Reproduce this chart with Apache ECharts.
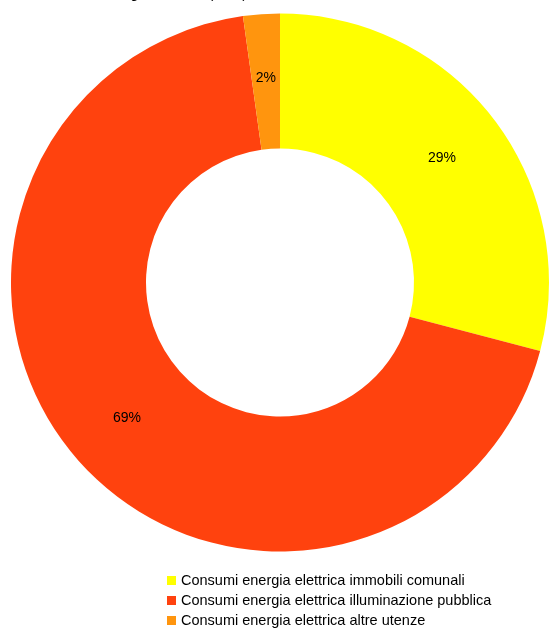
<!DOCTYPE html>
<html>
<head>
<meta charset="utf-8">
<script src="https://cdn.jsdelivr.net/npm/echarts@6/dist/echarts.min.js"></script>
<style>
  html, body { margin: 0; padding: 0; background: #ffffff; }
  #chart { width: 549px; height: 629px; }
</style>
</head>
<body>
<div id="chart"></div>
<script>
// Energy consumption shares by use
const categories = [
  'Consumi energia elettrica immobili comunali',
  'Consumi energia elettrica illuminazione pubblica',
  'Consumi energia elettrica altre utenze'
];
const shares = [29.1, 68.7, 2.2];
const sliceColors = ['#ffff00', '#ff420e', '#ff950e'];
const chartTitle = 'Consumi energia elettrica (kWh)';

const chart = echarts.init(document.getElementById('chart'), null, { renderer: 'canvas' });

chart.setOption({
  animation: false,
  backgroundColor: '#ffffff',
  title: {
    text: chartTitle,
    left: 40,
    top: -13,
    padding: 0,
    textStyle: { fontFamily: 'Liberation Sans', fontSize: 14.5, fontWeight: 'normal', color: '#000000', lineHeight: 13 }
  },
  legend: {
    orient: 'vertical',
    left: 167,
    top: 573,
    height: 120,
    itemWidth: 9,
    itemHeight: 9,
    itemGap: 5,
    icon: 'rect',
    padding: 0,
    data: categories,
    textStyle: { fontFamily: 'Liberation Sans', fontSize: 14.5, lineHeight: 13, color: '#000000', padding: [0, 0, 0, 0] }
  },
  series: [{
    type: 'pie',
    center: [280, 282.5],
    radius: [134, 269],
    startAngle: 90,
    clockwise: true,
    percentPrecision: 0,
    avoidLabelOverlap: false,
    label: {
      show: true,
      position: 'inside',
      formatter: '{d}%',
      fontFamily: 'Liberation Sans',
      fontSize: 14,
      color: '#000000'
    },
    labelLine: { show: false },
    emphasis: { disabled: true },
    data: categories.map((name, i) => ({
      name: name,
      value: shares[i],
      itemStyle: { color: sliceColors[i] }
    }))
  }]
});
</script>
</body>
</html>
